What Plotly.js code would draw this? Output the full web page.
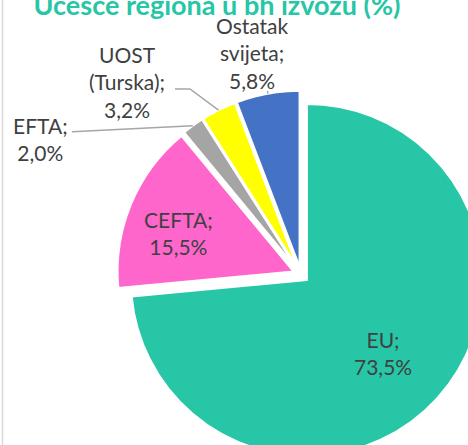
<!DOCTYPE html>
<html>
<head>
<meta charset="utf-8">
<script src="https://cdn.plot.ly/plotly-3.0.1.min.js"></script>
<style>
html,body{margin:0;padding:0;width:468px;height:445px;overflow:hidden;background:#fff;}
#chart{position:absolute;left:0;top:0;}
</style>
</head>
<body>
<div id="chart"></div>
<script>
// ---- data ----
var categories = ['EU', 'CEFTA', 'EFTA', 'UOST (Turska)', 'Ostatak svijeta'];
var displayLabels = ['EU;', 'CEFTA;', 'EFTA;', 'UOST<br>(Turska);', 'Ostatak<br>svijeta;'];
var shares = [73.5, 15.5, 2.0, 3.2, 5.8];
var colors = ['#26C6A6', '#FF66CC', '#A5A5A5', '#FFFF00', '#4472C4'];
var chartTitle = 'Učešće regiona u bh izvozu (%)';

// ---- layout config ----
var W = 620, H = 620;
var cx = 301, cy = 274.6;          // pie centre (px)
var r = 176;                         // pie radius (px)
var pullFrac = 0.0455;
var S = r * (2 + 2 * pullFrac);     // pie box size
var textColor = '#404040';
var font = 'Lato, "Open Sans", sans-serif';

// data-label placement (px centres), as in the reference
var labelPos = [[383, 353], [178, 233], [40, 139], [127, 82], [252, 53]];

function fmt(v) { return v.toFixed(1).replace('.', ',') + '%'; }
function px(x) { return x / W; }
function py(y) { return 1 - y / H; }

var texts = categories.map(function (c, i) { return displayLabels[i] + '<br>' + fmt(shares[i]); });

// slice geometry (clockwise from 12 o'clock)
var total = shares.reduce(function (a, b) { return a + b; }, 0);
var edgePts = [];
var acc = 0;
shares.forEach(function (v) {
  var a0 = acc / total * 2 * Math.PI;
  acc += v;
  var a1 = acc / total * 2 * Math.PI;
  var mid = (a0 + a1) / 2;
  var R = r * (1 + pullFrac);
  edgePts.push([cx + R * Math.sin(mid), cy - R * Math.cos(mid)]);
});

var annotations = texts.map(function (t, i) {
  return {
    text: t, xref: 'paper', yref: 'paper',
    x: px(labelPos[i][0]), y: py(labelPos[i][1]),
    xanchor: 'center', yanchor: 'middle', showarrow: false,
    font: {family: font, size: 21, color: textColor}
  };
});

function pathOf(pts) {
  return pts.map(function (p, k) { return (k ? 'L' : 'M') + px(p[0]) + ',' + py(p[1]); }).join(' ');
}
var lineStyle = {color: '#A6A6A6', width: 1.5};
var shapes = [
  {type: 'path', xref: 'paper', yref: 'paper', path: pathOf([[72, 131.7], edgePts[2]]), line: lineStyle},
  {type: 'path', xref: 'paper', yref: 'paper', path: pathOf([[175, 89], [190, 89], edgePts[3]]), line: lineStyle},
  {type: 'path', xref: 'paper', yref: 'paper', path: pathOf([[edgePts[4][0], 91], edgePts[4]]), line: lineStyle},
  {type: 'line', xref: 'paper', yref: 'paper', x0: px(2.5), x1: px(2.5), y0: 0, y1: 1, line: {color: '#D9D9D9', width: 1.5}}
];

var trace = {
  type: 'pie',
  labels: categories,
  values: shares,
  textinfo: 'none',
  sort: false,
  direction: 'clockwise',
  rotation: 0,
  pull: shares.map(function () { return pullFrac; }),
  marker: {colors: colors, line: {color: '#FFFFFF', width: 2}},
  hoverinfo: 'none',
  domain: {x: [px(cx - S / 2), px(cx + S / 2)], y: [py(cy + S / 2), py(cy - S / 2)]}
};

var layout = {
  width: W, height: H,
  margin: {l: 0, r: 0, t: 0, b: 0},
  paper_bgcolor: '#FFFFFF',
  showlegend: false,
  separators: ',.',
  title: {
    text: '<b>' + chartTitle + '</b>',
    font: {family: font, size: 27, color: '#26C6A6'},
    xref: 'container', yref: 'container',
    x: px(217), xanchor: 'center',
    y: py(6), yanchor: 'middle'
  },
  annotations: annotations,
  shapes: shapes
};

Plotly.newPlot('chart', [trace], layout, {staticPlot: true, displayModeBar: false});
</script>
</body>
</html>
